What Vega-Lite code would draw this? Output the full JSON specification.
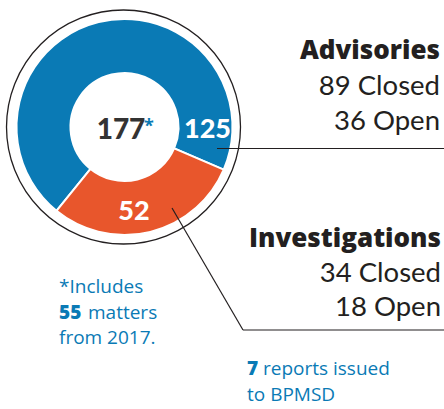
{
  "$schema": "https://vega.github.io/schema/vega-lite/v6.json",
  "width": 444,
  "height": 409,
  "padding": 0,
  "autosize": "none",
  "background": "white",
  "config": {"view": {"stroke": null}, "text": {"font": "Lato"}},
  "data": {"values": [
    {"category": "Advisories", "count": 125, "closed": 89, "open": 36, "ord": 2},
    {"category": "Investigations", "count": 52, "closed": 34, "open": 18, "ord": 1}
  ]},
  "layer": [
    {
      "data": {"values": [{}]},
      "mark": {"type": "arc", "radius": 117, "theta": 0, "theta2": 6.2832, "filled": false, "stroke": "#231f20", "strokeWidth": 1.3},
      "encoding": {
        "x": {"datum": 123.5, "type": "quantitative", "scale": {"domain": [0, 444], "nice": false, "zero": false}, "axis": null},
        "y": {"datum": 127, "type": "quantitative", "scale": {"domain": [0, 409], "nice": false, "zero": false, "reverse": true}, "axis": null}
      }
    },
    {
      "mark": {"type": "arc", "outerRadius": 108, "innerRadius": 54, "stroke": "white", "strokeWidth": 2},
      "encoding": {
        "x": {"datum": 124.5, "type": "quantitative", "scale": {"domain": [0, 444], "nice": false, "zero": false}, "axis": null},
        "y": {"datum": 127, "type": "quantitative", "scale": {"domain": [0, 409], "nice": false, "zero": false, "reverse": true}, "axis": null},
        "theta": {"field": "count", "type": "quantitative", "stack": true, "scale": {"range": [1.977, 8.260]}},
        "order": {"field": "ord", "type": "quantitative"},
        "color": {"field": "category", "type": "nominal", "scale": {"domain": ["Advisories", "Investigations"], "range": ["#0a7ab5", "#e8562c"]}, "legend": null}
      }
    },
    {
      "mark": {"type": "text", "fontSize": 28, "fontWeight": 900, "color": "#333333", "align": "center", "baseline": "alphabetic"},
      "encoding": {
        "x": {"datum": 121, "type": "quantitative", "scale": {"domain": [0, 444], "nice": false, "zero": false}, "axis": null},
        "y": {"datum": 139, "type": "quantitative", "scale": {"domain": [0, 409], "nice": false, "zero": false, "reverse": true}, "axis": null},
        "text": {"aggregate": "sum", "field": "count", "type": "quantitative"}
      }
    },
    {
      "data": {"values": [{"t": "*"}]},
      "mark": {"type": "text", "font": "Open Sans", "fontSize": 18, "fontWeight": "bold", "color": "#0a7ab5", "align": "left", "baseline": "alphabetic"},
      "encoding": {
        "x": {"datum": 144, "type": "quantitative", "scale": {"domain": [0, 444], "nice": false, "zero": false}, "axis": null},
        "y": {"datum": 132, "type": "quantitative", "scale": {"domain": [0, 409], "nice": false, "zero": false, "reverse": true}, "axis": null},
        "text": {"field": "t"}
      }
    },
    {
      "transform": [{"filter": "datum.category == 'Advisories'"}],
      "mark": {"type": "text", "fontSize": 27, "fontWeight": 900, "color": "white", "align": "center", "baseline": "alphabetic"},
      "encoding": {
        "x": {"datum": 207.5, "type": "quantitative", "scale": {"domain": [0, 444], "nice": false, "zero": false}, "axis": null},
        "y": {"datum": 138, "type": "quantitative", "scale": {"domain": [0, 409], "nice": false, "zero": false, "reverse": true}, "axis": null},
        "text": {"field": "count", "type": "quantitative"}
      }
    },
    {
      "transform": [{"filter": "datum.category == 'Investigations'"}],
      "mark": {"type": "text", "fontSize": 27, "fontWeight": 900, "color": "white", "align": "center", "baseline": "alphabetic"},
      "encoding": {
        "x": {"datum": 134, "type": "quantitative", "scale": {"domain": [0, 444], "nice": false, "zero": false}, "axis": null},
        "y": {"datum": 220, "type": "quantitative", "scale": {"domain": [0, 409], "nice": false, "zero": false, "reverse": true}, "axis": null},
        "text": {"field": "count", "type": "quantitative"}
      }
    },
    {
      "transform": [{"filter": "datum.category == 'Advisories'"}],
      "mark": {"type": "text", "font": "Open Sans", "fontSize": 26, "fontWeight": 800, "color": "#231f20", "align": "right", "baseline": "alphabetic"},
      "encoding": {
        "x": {"datum": 440, "type": "quantitative", "scale": {"domain": [0, 444], "nice": false, "zero": false}, "axis": null},
        "y": {"datum": 58.5, "type": "quantitative", "scale": {"domain": [0, 409], "nice": false, "zero": false, "reverse": true}, "axis": null},
        "text": {"field": "category"}
      }
    },
    {
      "transform": [{"filter": "datum.category == 'Investigations'"}],
      "mark": {"type": "text", "font": "Open Sans", "fontSize": 26, "fontWeight": 800, "color": "#231f20", "align": "right", "baseline": "alphabetic"},
      "encoding": {
        "x": {"datum": 441, "type": "quantitative", "scale": {"domain": [0, 444], "nice": false, "zero": false}, "axis": null},
        "y": {"datum": 247, "type": "quantitative", "scale": {"domain": [0, 409], "nice": false, "zero": false, "reverse": true}, "axis": null},
        "text": {"field": "category"}
      }
    },
    {
      "transform": [
        {"filter": "datum.category == 'Advisories'"},
        {"calculate": "[datum.closed + ' Closed', datum.open + ' Open']", "as": "lines"}
      ],
      "mark": {"type": "text", "fontSize": 27.5, "color": "#231f20", "align": "right", "baseline": "alphabetic", "lineHeight": 35},
      "encoding": {
        "x": {"datum": 440, "type": "quantitative", "scale": {"domain": [0, 444], "nice": false, "zero": false}, "axis": null},
        "y": {"datum": 95, "type": "quantitative", "scale": {"domain": [0, 409], "nice": false, "zero": false, "reverse": true}, "axis": null},
        "text": {"field": "lines"}
      }
    },
    {
      "transform": [
        {"filter": "datum.category == 'Investigations'"},
        {"calculate": "[datum.closed + ' Closed', datum.open + ' Open']", "as": "lines"}
      ],
      "mark": {"type": "text", "fontSize": 27.5, "color": "#231f20", "align": "right", "baseline": "alphabetic", "lineHeight": 34},
      "encoding": {
        "x": {"datum": 441, "type": "quantitative", "scale": {"domain": [0, 444], "nice": false, "zero": false}, "axis": null},
        "y": {"datum": 282, "type": "quantitative", "scale": {"domain": [0, 409], "nice": false, "zero": false, "reverse": true}, "axis": null},
        "text": {"field": "lines"}
      }
    },
    {
      "data": {"values": [{}]},
      "mark": {"type": "rule", "color": "#231f20", "strokeWidth": 1.2},
      "encoding": {
        "x": {"datum": 217, "type": "quantitative", "scale": {"domain": [0, 444], "nice": false, "zero": false}, "axis": null},
        "x2": {"datum": 444},
        "y": {"datum": 148.5, "type": "quantitative", "scale": {"domain": [0, 409], "nice": false, "zero": false, "reverse": true}, "axis": null},
        "y2": {"datum": 148.5}
      }
    },
    {
      "data": {"values": [{}]},
      "mark": {"type": "rule", "color": "#231f20", "strokeWidth": 1.2},
      "encoding": {
        "x": {"datum": 172, "type": "quantitative", "scale": {"domain": [0, 444], "nice": false, "zero": false}, "axis": null},
        "x2": {"datum": 243},
        "y": {"datum": 208, "type": "quantitative", "scale": {"domain": [0, 409], "nice": false, "zero": false, "reverse": true}, "axis": null},
        "y2": {"datum": 330}
      }
    },
    {
      "data": {"values": [{}]},
      "mark": {"type": "rule", "color": "#231f20", "strokeWidth": 1.2},
      "encoding": {
        "x": {"datum": 243, "type": "quantitative", "scale": {"domain": [0, 444], "nice": false, "zero": false}, "axis": null},
        "x2": {"datum": 444},
        "y": {"datum": 330, "type": "quantitative", "scale": {"domain": [0, 409], "nice": false, "zero": false, "reverse": true}, "axis": null},
        "y2": {"datum": 330}
      }
    },
    {
      "data": {"values": [{"t": "*Includes"}]},
      "mark": {"type": "text", "font": "Open Sans", "fontSize": 19, "color": "#0a7ab5", "align": "left", "baseline": "alphabetic"},
      "encoding": {
        "x": {"datum": 59, "type": "quantitative", "scale": {"domain": [0, 444], "nice": false, "zero": false}, "axis": null},
        "y": {"datum": 293, "type": "quantitative", "scale": {"domain": [0, 409], "nice": false, "zero": false, "reverse": true}, "axis": null},
        "text": {"field": "t"}
      }
    },
    {
      "data": {"values": [{"t": "from 2017."}]},
      "mark": {"type": "text", "font": "Open Sans", "fontSize": 19, "color": "#0a7ab5", "align": "left", "baseline": "alphabetic"},
      "encoding": {
        "x": {"datum": 59, "type": "quantitative", "scale": {"domain": [0, 444], "nice": false, "zero": false}, "axis": null},
        "y": {"datum": 344, "type": "quantitative", "scale": {"domain": [0, 409], "nice": false, "zero": false, "reverse": true}, "axis": null},
        "text": {"field": "t"}
      }
    },
    {
      "data": {"values": [{"t": "55"}]},
      "mark": {"type": "text", "font": "Open Sans", "fontSize": 19, "fontWeight": 800, "color": "#0a7ab5", "align": "left", "baseline": "alphabetic"},
      "encoding": {
        "x": {"datum": 59, "type": "quantitative", "scale": {"domain": [0, 444], "nice": false, "zero": false}, "axis": null},
        "y": {"datum": 318.5, "type": "quantitative", "scale": {"domain": [0, 409], "nice": false, "zero": false, "reverse": true}, "axis": null},
        "text": {"field": "t"}
      }
    },
    {
      "data": {"values": [{"t": "matters"}]},
      "mark": {"type": "text", "font": "Open Sans", "fontSize": 19, "color": "#0a7ab5", "align": "left", "baseline": "alphabetic"},
      "encoding": {
        "x": {"datum": 88, "type": "quantitative", "scale": {"domain": [0, 444], "nice": false, "zero": false}, "axis": null},
        "y": {"datum": 318.5, "type": "quantitative", "scale": {"domain": [0, 409], "nice": false, "zero": false, "reverse": true}, "axis": null},
        "text": {"field": "t"}
      }
    },
    {
      "data": {"values": [{"t": "7"}]},
      "mark": {"type": "text", "font": "Open Sans", "fontSize": 19, "fontWeight": 800, "color": "#0a7ab5", "align": "left", "baseline": "alphabetic"},
      "encoding": {
        "x": {"datum": 247, "type": "quantitative", "scale": {"domain": [0, 444], "nice": false, "zero": false}, "axis": null},
        "y": {"datum": 375, "type": "quantitative", "scale": {"domain": [0, 409], "nice": false, "zero": false, "reverse": true}, "axis": null},
        "text": {"field": "t"}
      }
    },
    {
      "data": {"values": [{"t": "reports issued"}]},
      "mark": {"type": "text", "font": "Open Sans", "fontSize": 19, "color": "#0a7ab5", "align": "left", "baseline": "alphabetic"},
      "encoding": {
        "x": {"datum": 263, "type": "quantitative", "scale": {"domain": [0, 444], "nice": false, "zero": false}, "axis": null},
        "y": {"datum": 375, "type": "quantitative", "scale": {"domain": [0, 409], "nice": false, "zero": false, "reverse": true}, "axis": null},
        "text": {"field": "t"}
      }
    },
    {
      "data": {"values": [{"t": "to BPMSD"}]},
      "mark": {"type": "text", "font": "Open Sans", "fontSize": 19, "color": "#0a7ab5", "align": "left", "baseline": "alphabetic"},
      "encoding": {
        "x": {"datum": 247, "type": "quantitative", "scale": {"domain": [0, 444], "nice": false, "zero": false}, "axis": null},
        "y": {"datum": 401, "type": "quantitative", "scale": {"domain": [0, 409], "nice": false, "zero": false, "reverse": true}, "axis": null},
        "text": {"field": "t"}
      }
    }
  ]
}
